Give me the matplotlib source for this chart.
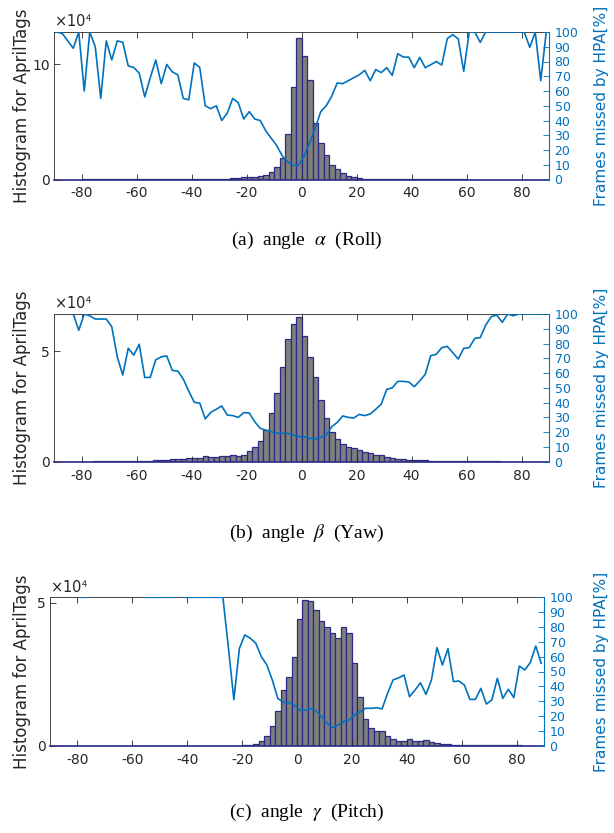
import numpy as np
import matplotlib
matplotlib.use("Agg")
import matplotlib.pyplot as plt

plt.rcParams['font.family'] = ['DejaVu Sans']
plt.rcParams['mathtext.fontset'] = 'stix'
plt.rcParams['axes.unicode_minus'] = False

# histogram bins: width 2 from -90 to 90, counts in units of 1e4
bin_edges = np.arange(-90, 91, 2)
line_x = np.arange(-89, 90, 2)

hist_roll = [0, 0, 0, 0, 0, 0.01, 0.01, 0.01, 0.01, 0.01,
             0.01, 0.01, 0.01, 0.01, 0.01, 0.01, 0.01, 0.02, 0.02, 0.02,
             0.02, 0.02, 0.03, 0.03, 0.03, 0.04, 0.04, 0.05, 0.05, 0.06,
             0.07, 0.08, 0.10, 0.14, 0.20, 0.20, 0.22, 0.28, 0.40, 0.64,
             1.05, 1.88, 3.92, 8.05, 12.25, 10.75, 8.60, 4.86, 3.18, 2.12,
             1.28, 0.90, 0.56, 0.34, 0.22, 0.13, 0.08, 0.06, 0.05, 0.04,
             0.03, 0.03, 0.02, 0.02, 0.02, 0.02, 0.01, 0.01, 0.01, 0.01,
             0.01, 0.01, 0.01, 0.01, 0.01, 0, 0, 0, 0, 0,
             0, 0, 0, 0, 0, 0, 0, 0, 0, 0]

hist_yaw = [0, 0, 0, 0, 0, 0, 0, 0.01, 0.01, 0.01,
            0.01, 0.01, 0.01, 0.01, 0.02, 0.02, 0.03, 0.05, 0.06, 0.08,
            0.08, 0.11, 0.12, 0.14, 0.18, 0.17, 0.19, 0.26, 0.21, 0.20,
            0.24, 0.27, 0.30, 0.27, 0.32, 0.49, 0.65, 0.94, 1.44, 2.20,
            3.11, 4.30, 5.58, 6.24, 6.55, 5.70, 4.77, 3.86, 2.80, 1.97,
            1.36, 1.02, 0.79, 0.68, 0.61, 0.52, 0.44, 0.40, 0.32, 0.29,
            0.20, 0.17, 0.12, 0.11, 0.09, 0.08, 0.06, 0.06, 0.05, 0.05,
            0.04, 0.03, 0.03, 0.02, 0.02, 0.01, 0.01, 0.01, 0.01, 0.01,
            0.01, 0, 0, 0, 0, 0, 0, 0, 0, 0]

hist_pitch = [0, 0, 0, 0, 0, 0, 0, 0, 0, 0,
              0, 0, 0, 0, 0, 0, 0, 0, 0, 0,
              0, 0, 0, 0, 0, 0, 0, 0, 0, 0,
              0, 0, 0, 0, 0, 0.01, 0.02, 0.06, 0.16, 0.35,
              0.69, 1.20, 1.95, 2.41, 3.11, 4.43, 5.09, 5.07, 4.74, 4.36,
              4.16, 3.93, 3.75, 4.16, 3.93, 2.90, 1.69, 0.92, 0.63, 0.50,
              0.52, 0.34, 0.22, 0.18, 0.16, 0.24, 0.18, 0.18, 0.20, 0.12,
              0.08, 0.06, 0.05, 0.04, 0.04, 0.03, 0.03, 0.02, 0.02, 0.02,
              0.01, 0.01, 0.01, 0.01, 0.01, 0.01, 0, 0, 0, 0]

nan = np.nan
# frames missed by HPA [%], at odd angles -89..89
miss_roll = [100, 99, 94, 89, 100, 60, 100, 90, 55, 94,
             81, 94, 93, 77, 76, 72, 56, 69, 81, 65,
             78, 73, 71, 55, 54, 79, 76, 50, 48, 50,
             40, 45, 55, 52, 41, 46, 41, 40, 33, 28,
             23, 16, 12, 9.5, 10, 16, 25, 35, 46, 50,
             56.5, 65.5, 65, 67, 69, 71, 74, 67, 74.5, 72.5,
             75.8, 70.6, 85.3, 83, 83, 75.8, 82.8, 75.8, 77.8, 80,
             77.6, 95.5, 98.2, 95.3, 73.3, 100, 100, 93, 100, 100,
             100, 100, 100, 100, 100, 100, 89.6, 100, 67, 100]

miss_yaw = [nan, nan, nan, 100, 89, 100, 98.8, 96.6, 96.6, 96.6,
            91.4, 71, 58.7, 76.8, 72.2, 79.5, 57, 57.1, 69, 71,
            71.6, 61.8, 61.4, 56, 47.8, 40.2, 39.7, 29, 33.4, 35.5,
            37.7, 31.6, 31.2, 30, 33.2, 33, 27, 22.6, 21.4, 20.3,
            19.2, 19.2, 19.2, 18, 17, 17, 15.8, 15.4, 16.5, 18,
            23.7, 26.6, 31, 30, 29.6, 32, 31.2, 32.3, 35.5, 39,
            49, 50, 54.4, 54.4, 54, 50.8, 54.7, 59.2, 71.8, 72.7,
            77.2, 78.1, 73.8, 69.5, 76.8, 77.2, 83.5, 84, 92.5, 98.2,
            99.3, 94.4, 100, 98.8, 100, 100, 100, 100, 100, nan]

miss_pitch = [nan, nan, nan, nan, nan, 100, 100, nan, nan, nan,
              nan, nan, nan, nan, nan, nan, nan, 100, 100, 100,
              100, 100, 100, nan, 100, 100, 100, 100, 100, 100,
              100, 100, 66, 31, 65.6, 74.6, 72.4, 69, 60, 54.4,
              44.3, 31.9, 29.2, 29.2, 27.4, 24, 24, 25.2, 23.4, 19.5,
              15, 12.1, 13.9, 16.2, 17.3, 20.7, 22.9, 25.2, 25.2, 25.6,
              24.8, 35.3, 44.3, 45.7, 47.6, 33, 37.5, 42.4, 34.6, 44.3,
              66.1, 54.4, 65.4, 43.2, 43.6, 40.9, 31.2, 31.2, 38.6, 28.1,
              30.8, 45.4, 31.9, 38, 32.4, 53.7, 51, 56, 67.2, 55.5]

panels = [
    dict(hist=hist_roll, miss=miss_roll, ytop=12.8, yticks=[0, 10],
         rect=[54/614, 1-179.5/833, 495/614, 147.5/833],
         caption=r'(a)  angle  $\alpha$  (Roll)', cap_y=1-240/833),
    dict(hist=hist_yaw, miss=miss_yaw, ytop=6.7, yticks=[0, 5],
         rect=[54/614, 1-461.7/833, 495/614, 147.7/833],
         caption=r'(b)  angle  $\beta$  (Yaw)', cap_y=1-533/833),
    dict(hist=hist_pitch, miss=miss_pitch, ytop=5.19, yticks=[0, 5],
         rect=[50/614, 1-745.7/833, 494/614, 148.4/833],
         caption=r'(c)  angle  $\gamma$  (Pitch)', cap_y=1-812/833),
]

dark = '#262626'
blue = '#0072BD'
navy = '#2c2a86'

fig = plt.figure(figsize=(6.14, 8.33), dpi=100)

for p in panels:
    ax = fig.add_axes(p['rect'])
    ax.bar(bin_edges[:-1], p['hist'], width=2, align='edge',
           color='#7f7f7f', edgecolor=navy, linewidth=0.9)
    ax.set_xlim(-90, 90)
    ax.set_ylim(0, p['ytop'])
    ax.set_xticks(range(-80, 81, 20))
    ax.set_yticks(p['yticks'])
    ax.tick_params(direction='in', length=4, width=0.6, colors=dark,
                   labelsize=10, top=True, right=False)
    ax.tick_params(axis='x', pad=5)
    ax.tick_params(axis='y', pad=3)
    for s in ['left', 'top']:
        ax.spines[s].set_color(dark)
        ax.spines[s].set_linewidth(0.6)
    ax.spines['bottom'].set_color(navy)
    ax.spines['bottom'].set_linewidth(1.2)
    ax.spines['right'].set_visible(False)

    # label positions in pixels, converted to axes fraction
    left_px = p['rect'][0] * 614
    width_px = p['rect'][2] * 614
    ax.set_ylabel('Histogram for AprilTags', fontsize=12, color=dark)
    ax.yaxis.set_label_coords((31 - left_px) / width_px, 0.5)
    ax.text(0.0, 1.012, '×10$^{\\mathsf{4}}$', transform=ax.transAxes,
            fontsize=10.5, color=dark, ha='left', va='bottom')

    ax2 = ax.twinx()
    ax2.plot(line_x, p['miss'], color=blue, lw=1.2)
    ax2.set_ylim(0, 100)
    ax2.set_yticks(range(0, 101, 10))
    ax2.tick_params(direction='in', length=4, width=0.6, colors=blue,
                    labelsize=9, pad=4)
    for s in ['left', 'top', 'bottom']:
        ax2.spines[s].set_visible(False)
    ax2.spines['right'].set_color(blue)
    ax2.spines['right'].set_linewidth(0.8)
    ax2.set_ylabel('Frames missed by HPA[%]', fontsize=11, color=blue)
    ax2.yaxis.set_label_coords((594 - left_px) / width_px, 0.5)

    fig.text(0.5, p['cap_y'], p['caption'], ha='center', va='center',
             fontsize=14, family='Liberation Serif')

fig.savefig('out.png', dpi=100)
